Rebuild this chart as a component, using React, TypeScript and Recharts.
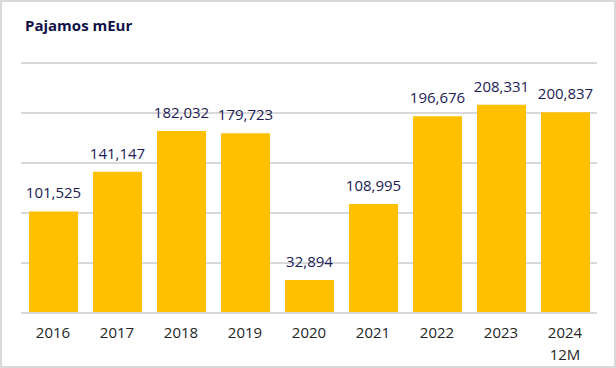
import React from 'react';
import { BarChart, Bar, XAxis, YAxis, CartesianGrid, LabelList } from 'recharts';

const YEARS = ['2016', '2017', '2018', '2019', '2020', '2021', '2022', '2023', '2024'];
const SUBLABELS = ['', '', '', '', '', '', '', '', '12M'];
const REVENUE = [101525, 141147, 182032, 179723, 32894, 108995, 196676, 208331, 200837];
const Y_TICKS = [0, 50000, 100000, 150000, 200000, 250000];

const FONT = '"Open Sans", "Noto Sans", sans-serif';

const data = YEARS.map((year, i) => ({ year, sub: SUBLABELS[i], value: REVENUE[i] }));

const YearTick = (props: any) => {
  const { x, y, payload, index } = props;
  const sub = SUBLABELS[index];
  return (
    <g>
      <text x={x} y={y + 17} textAnchor="middle" fill="#262626" fontSize={15} fontFamily={FONT}>
        {payload.value}
      </text>
      {sub && (
        <text x={x} y={y + 39} textAnchor="middle" fill="#262626" fontSize={15} fontFamily={FONT}>
          {sub}
        </text>
      )}
    </g>
  );
};

export default function App() {
  return (
    <div style={{ position: 'absolute', left: 0, top: 0, width: 616, height: 368, background: '#fff' }}>
      <div
        style={{
          position: 'absolute',
          left: 25,
          top: 15,
          fontFamily: FONT,
          fontWeight: 700,
          fontSize: 15,
          color: '#10104a',
        }}
      >
        Pajamos mEur
      </div>
      <div style={{ position: 'absolute', left: 0, top: 0 }}>
        <BarChart
          width={616}
          height={368}
          data={data}
          margin={{ top: 63, right: 19, left: 21, bottom: 25 }}
          barSize={49}
        >
          <CartesianGrid vertical={false} stroke="#d9d9d9" strokeWidth={2} />
          <XAxis
            dataKey="year"
            height={30}
            axisLine={{ stroke: '#d9d9d9', strokeWidth: 2 }}
            tickLine={false}
            interval={0}
            tick={<YearTick />}
          />
          <YAxis hide domain={[0, 250000]} ticks={Y_TICKS} />
          <Bar dataKey="value" fill="#FFC000" isAnimationActive={false}>
            <LabelList
              dataKey="value"
              position="top"
              offset={13}
              fill="#1b1b55"
              fontSize={15}
              fontFamily={FONT}
              formatter={(v: any) => Number(v).toLocaleString('en-US')}
            />
          </Bar>
        </BarChart>
      </div>
      <div
        style={{
          position: 'absolute',
          left: 0,
          top: 0,
          width: 616,
          height: 368,
          boxSizing: 'border-box',
          border: '2px solid #d9d9d9',
          pointerEvents: 'none',
        }}
      />
    </div>
  );
}
